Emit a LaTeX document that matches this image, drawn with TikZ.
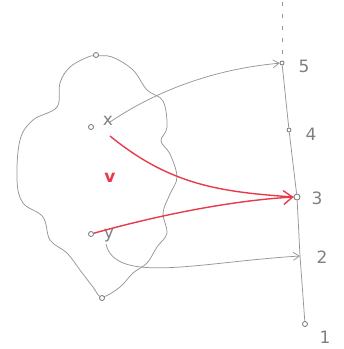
\documentclass[tikz,border=0pt]{standalone}
\usetikzlibrary{arrows.meta}
\usepackage{fontspec}
\setmainfont{DejaVu Sans}
\definecolor{pen}{RGB}{232,58,72}
\definecolor{lead}{RGB}{150,150,150}
\begin{document}
\begin{tikzpicture}[x=1pt,y=-1pt,
  pencil/.style={draw=lead, line width=0.75pt},
  redpen/.style={draw=pen, line width=1.4pt},
  dot/.style={circle, draw=black!55, fill=white, line width=0.8pt, inner sep=0pt, minimum size=5pt},
  lbl/.style={text=black!50, font=\fontsize{17}{17}\selectfont, inner sep=0pt},
  tip/.style={-{Straight Barb[length=6pt,width=8pt]}},
  redtip/.style={-{Straight Barb[length=9pt,width=14pt]}}]
\useasboundingbox (0,0) rectangle (344,349);
% blob
\draw[pencil] plot[smooth cycle, tension=0.6] coordinates {
 (96,56) (112,57) (133,70) (147,90) (163,101) (167,127) (161,141) (170,154)
 (177,177) (170,194) (163,213) (167,233) (157,247) (147,263) (133,273)
 (120,287) (102,297) (93,287) (80,270) (67,253) (50,240) (43,217) (23,203)
 (17,180) (20,140) (33,120) (57,107) (60,83) (70,67) (88,57)};
% blob nodes
\node[dot] (a) at (96,55) {};
\node[dot] (x) at (91,127) {};
\node[dot] (y) at (91,234) {};
\node[dot] (b) at (102,298) {};
\node[lbl] (xl) at (108,121) {x};
\node[lbl] (yl) at (109,236) {y};
\node[text=pen, font=\fontsize{17}{17}\selectfont\bfseries, inner sep=0pt] (v) at (110,178) {v};
% axis
\coordinate (top) at (282,2);
\coordinate (n2) at (300,256);
\node[dot, minimum size=4pt] (n5) at (282,63) {};
\node[dot, minimum size=4pt] (n4) at (289,130) {};
\node[dot, minimum size=6pt] (n3) at (297,197) {};
\node[dot, minimum size=5pt] (n1) at (305,324) {};
\draw[pencil, dash pattern=on 4pt off 8pt] (top) -- (n5);
\draw[pencil] (n5) -- (n4) -- (n3) -- (n2) -- (n1);
\node[lbl] (l5) at (304,66) {5};
\node[lbl] (l4) at (311,134) {4};
\node[lbl] (l3) at (317,198) {3};
\node[lbl] (l2) at (322,257) {2};
\node[lbl] (l1) at (325,337) {1};
% gray arrows
\coordinate (xs) at (110,122);
\coordinate (ys) at (106,244);
\draw[pencil, tip] (xs) .. controls (165,85) and (225,68) .. (n5);
\draw[pencil, tip] (ys) .. controls (115,285) and (200,262) .. (n2);
% red arrows
\coordinate (xr) at (110,136);
\draw[redpen] (xr) .. controls (170,185) and (220,192) .. (n3.west);
\draw[redpen, redtip] (y) .. controls (170,212) and (240,200) .. (n3.west);
\end{tikzpicture}
\end{document}
